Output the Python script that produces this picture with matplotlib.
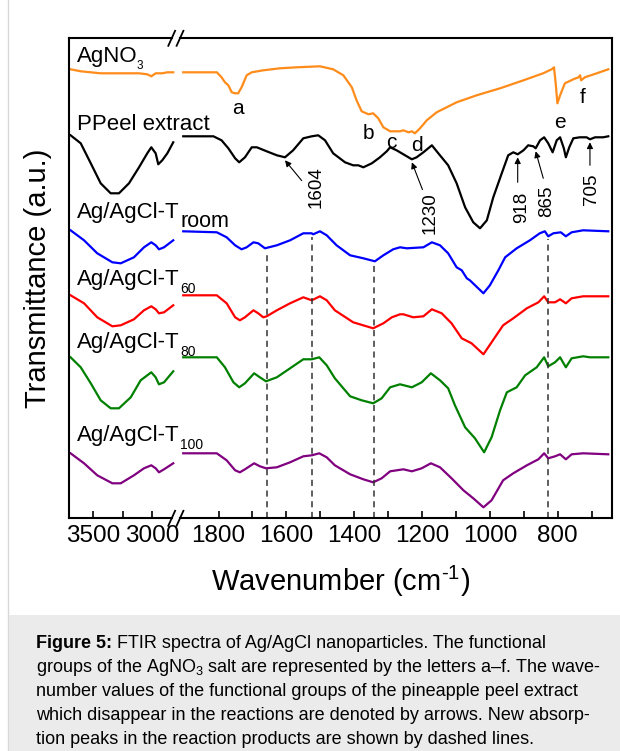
import numpy as np
import matplotlib
matplotlib.use("Agg")
import matplotlib.pyplot as plt
from matplotlib.lines import Line2D
from matplotlib.patches import Rectangle
from matplotlib.ticker import FixedLocator

plt.rcParams['font.family'] = ['Liberation Sans', 'DejaVu Sans']
plt.rcParams['mathtext.fontset'] = 'custom'
plt.rcParams['mathtext.rm'] = 'Liberation Sans'
plt.rcParams['mathtext.it'] = 'Liberation Sans:italic'
plt.rcParams['mathtext.bf'] = 'Liberation Sans:bold'

# ---------------- data (wavenumber cm-1, transmittance a.u. incl. offset) ----------
# high-wavenumber segment (3700-2800)
wn_hi = [3690, 3604, 3519, 3435, 3350, 3280, 3195, 3110, 3040, 3006, 2969, 2947, 2913, 2870, 2820]
agno3_hi = [449, 447, 446, 445, 445, 445, 445, 445, 444, 442, 445, 445, 445, 446, 446]
ppeel_hi = [383, 375, 355, 335, 325, 325, 335, 351, 365, 371, 365, 354, 358, 365, 376]

wn_hi2 = [3690, 3576, 3464, 3336, 3265, 3153, 3068, 3006, 2969, 2941, 2898, 2820]
troom_hi = [288, 278, 265, 256, 255, 261, 271, 276, 273, 269, 271, 278]
t60_hi = [223, 215, 201, 192, 193, 199, 208, 212, 209, 205, 206, 213]
t100_hi = [65, 55, 43, 35, 35, 43, 50, 53, 50, 46, 49, 55]
wn_t80_hi = [3690, 3604, 3519, 3435, 3350, 3280, 3180, 3096, 3006, 2969, 2941, 2898, 2820]
t80_hi = [161, 151, 135, 118, 110, 110, 121, 138, 146, 141, 134, 136, 147]

# low-wavenumber segment (1900-650)
wn_agno3 = [1904, 1805, 1791, 1781, 1771, 1761, 1751, 1742, 1732, 1717, 1702, 1668, 1619, 1569,
            1501, 1462, 1432, 1407, 1393, 1378, 1358, 1344, 1329, 1314, 1294, 1265, 1255, 1240,
            1230, 1221, 1206, 1186, 1157, 1098, 1039, 970, 901, 843, 818, 811, 806, 801, 793,
            779, 754, 739, 734, 731, 720, 685, 651]
agno3_lo = [446, 446, 441, 436, 433, 426, 425, 425, 431, 443, 446, 448, 450, 451,
            452, 449, 443, 431, 418, 407, 404, 405, 400, 391, 387, 387, 388, 386,
            387, 385, 390, 398, 406, 416, 423, 430, 438, 445, 449, 451, 435, 415, 423,
            435, 439, 441, 443, 438, 441, 445, 449]

wn_ppeel = [1904, 1815, 1791, 1771, 1751, 1739, 1722, 1702, 1687, 1658, 1628, 1604, 1580, 1550,
            1525, 1506, 1486, 1462, 1427, 1403, 1388, 1373, 1348, 1324, 1304, 1294, 1275, 1250,
            1230, 1216, 1196, 1171, 1152, 1123, 1098, 1073, 1049, 1029, 1009, 990, 965, 946,
            931, 918, 901, 887, 872, 865, 852, 840, 828, 815, 803, 793, 782, 776, 766, 754,
            735, 715, 705, 690, 666, 651]
ppeel_lo = [382, 382, 378, 370, 360, 356, 361, 371, 371, 367, 363, 361, 368, 380,
            382, 383, 378, 365, 356, 353, 353, 351, 355, 361, 367, 371, 368, 363,
            359, 361, 366, 373, 365, 353, 335, 311, 296, 290, 298, 321, 345, 363,
            366, 364, 368, 373, 372, 370, 378, 381, 375, 366, 378, 381, 370, 361, 371, 380,
            381, 381, 379, 381, 381, 382]

wn_troom = [1904, 1805, 1776, 1751, 1732, 1717, 1697, 1683, 1663, 1628, 1589, 1550, 1525, 1521,
            1501, 1481, 1452, 1412, 1373, 1339, 1314, 1285, 1265, 1245, 1196, 1171, 1147, 1123,
            1098, 1083, 1068, 1059, 1019, 1000, 975, 955, 921, 882, 853, 838, 828, 813, 791,
            776, 759, 725, 651]
troom_lo = [287, 286, 281, 273, 269, 271, 276, 275, 270, 273, 278, 285, 285, 284,
            287, 283, 273, 263, 260, 257, 263, 269, 271, 270, 271, 276, 273, 265,
            251, 248, 240, 238, 225, 233, 248, 261, 270, 278, 285, 287, 282, 285, 286,
            282, 286, 288, 287]

wn_t60 = [1904, 1805, 1776, 1751, 1737, 1722, 1697, 1683, 1668, 1658, 1628, 1589, 1550, 1525,
          1501, 1481, 1457, 1403, 1344, 1314, 1289, 1265, 1255, 1226, 1196, 1171, 1142, 1113,
          1083, 1054, 1019, 995, 961, 931, 891, 857, 840, 828, 808, 793, 776, 759, 725, 651]
t60_lo = [223, 223, 215, 201, 198, 201, 208, 205, 201, 202, 208, 215, 221, 218,
          222, 218, 208, 196, 190, 195, 201, 204, 204, 201, 202, 209, 205, 195,
          180, 175, 164, 176, 193, 200, 210, 216, 222, 216, 216, 219, 215, 220, 222, 222]

wn_t80 = [1904, 1805, 1781, 1756, 1739, 1722, 1695, 1678, 1660, 1628, 1589, 1550, 1525, 1503,
          1481, 1457, 1412, 1378, 1344, 1319, 1294, 1265, 1230, 1201, 1174, 1147, 1123, 1103,
          1073, 1044, 1017, 995, 970, 950, 921, 896, 862, 840, 828, 808, 793, 776, 759, 725,
          705, 651]
t80_lo = [161, 161, 151, 136, 131, 135, 145, 141, 137, 141, 150, 159, 159, 161,
          153, 140, 122, 118, 115, 120, 131, 134, 131, 136, 145, 138, 130, 113,
          91, 80, 66, 81, 108, 126, 131, 143, 151, 161, 152, 156, 161, 151, 160, 162,
          161, 161]

wn_t100 = [1904, 1805, 1776, 1751, 1737, 1722, 1695, 1678, 1660, 1628, 1589, 1550, 1525, 1503,
           1481, 1457, 1412, 1373, 1344, 1319, 1294, 1255, 1230, 1201, 1174, 1147, 1113, 1078,
           1049, 1019, 995, 961, 931, 891, 857, 840, 828, 808, 793, 776, 759, 725, 651]
t100_lo = [65, 65, 58, 48, 46, 49, 55, 52, 50, 51, 56, 62, 63, 65,
           61, 53, 44, 39, 36, 40, 47, 49, 47, 50, 55, 51, 40, 28,
           20, 11, 18, 38, 45, 53, 59, 65, 60, 62, 64, 59, 64, 65, 64]

labels = ["AgNO", "PPeel extract", "Ag/AgCl-T", "Ag/AgCl-T", "Ag/AgCl-T", "Ag/AgCl-T"]
label_subs = ["3", "", "room", "60", "80", "100"]
label_baselines = [456, 388, 300, 233, 170, 77]
colors = ["#FF8C1A", "black", "#0000FF", "#FF0000", "#008000", "#800080"]

letters = ["a", "b", "c", "d", "e", "f"]
letter_pos = [(1742, 410), (1358, 385), (1291, 376), (1215, 373), (793, 396), (728, 421)]

arrow_wn = [1604, 1230, 918, 865, 705]
dashed_wn = [1658, 1523, 1342, 828]

ticks_hi = [3500, 3000]
ticks_lo = [1800, 1600, 1400, 1200, 1000, 800]

# ---------------- figure ----------------
W, H = 620, 751
fig = plt.figure(figsize=(W / 100, H / 100), dpi=100)

def fx(px):
    return px / W

def fy(py):
    return 1 - py / H

# caption box and left rule (behind everything)
fig.add_artist(Line2D([fx(8), fx(8)], [0, 1], color='#d8d8d8', lw=1.0, zorder=-5))
fig.add_artist(Rectangle((fx(8.5), 0), 1 - fx(8.5), (H - 615) / H,
                         transform=fig.transFigure, facecolor='#ebebeb', edgecolor='none',
                         zorder=-5))

ax_top, ax_bot = 38.3, 518.3
x_left, x_break, x_right = 69, 176, 612
ax1 = fig.add_axes([fx(x_left), fy(ax_bot), fx(x_break - x_left), (ax_bot - ax_top) / H])
ax2 = fig.add_axes([fx(x_break), fy(ax_bot), fx(x_right - x_break), (ax_bot - ax_top) / H])
ax2.patch.set_visible(False)

lw = 1.6
ax1.plot(wn_hi, agno3_hi, color=colors[0], lw=lw)
ax1.plot(wn_hi, ppeel_hi, color=colors[1], lw=lw)
ax1.plot(wn_hi2, troom_hi, color=colors[2], lw=lw)
ax1.plot(wn_hi2, t60_hi, color=colors[3], lw=lw)
ax1.plot(wn_t80_hi, t80_hi, color=colors[4], lw=lw)
ax1.plot(wn_hi2, t100_hi, color=colors[5], lw=lw)

ax2.plot(wn_agno3, agno3_lo, color=colors[0], lw=lw)
ax2.plot(wn_ppeel, ppeel_lo, color=colors[1], lw=lw)
ax2.plot(wn_troom, troom_lo, color=colors[2], lw=lw)
ax2.plot(wn_t60, t60_lo, color=colors[3], lw=lw)
ax2.plot(wn_t80, t80_lo, color=colors[4], lw=lw)
ax2.plot(wn_t100, t100_lo, color=colors[5], lw=lw)

ylo, yhi = 0, 480
for ax in (ax1, ax2):
    ax.set_ylim(ylo, yhi)
    ax.set_yticks([])
    for s in ax.spines.values():
        s.set_linewidth(1.5)
    ax.tick_params(axis='x', which='both', direction='in', length=5, width=1.2,
                   top=False, labelsize=17.5, pad=5)

ax1.set_xlim(3703.4, 2796.6)
ax2.set_xlim(1925.3, 640.0)
ax1.spines['right'].set_visible(False)
ax2.spines['left'].set_visible(False)
for sp in ('top', 'bottom'):
    ax1.spines[sp].set_bounds(2833, 3703.4)
    ax2.spines[sp].set_bounds(640.0, 1913.5)

ax1.xaxis.set_major_locator(FixedLocator(ticks_hi))
ax1.xaxis.set_minor_locator(FixedLocator([3250]))
ax2.xaxis.set_major_locator(FixedLocator(ticks_lo))
ax2.xaxis.set_minor_locator(FixedLocator([t - 100 for t in ticks_lo]))
ax1.set_xticklabels([str(t) for t in ticks_hi])
ax2.set_xticklabels([str(t) for t in ticks_lo])

# break marks
for yb in (ax_top, ax_bot):
    for cx in (171.7, 180.0):
        fig.add_artist(Line2D([fx(cx - 3.4), fx(cx + 3.4)], [fy(yb + 7.5), fy(yb - 7.5)],
                              color='black', lw=1.3))

# dashed lines from the Troom spectrum down to the axis
wn_tr_inc = wn_troom[::-1]
tr_inc = troom_lo[::-1]
for d in dashed_wn:
    top = np.interp(d, wn_tr_inc, tr_inc) - 3
    ax2.vlines(d, ylo, top, colors='#333333', linestyles=(0, (4, 3)), lw=1.1)

# labels of spectra
for lab, sub, base in zip(labels, label_subs, label_baselines):
    t = ax1.text(0.075, base, lab, transform=ax1.get_yaxis_transform(), fontsize=16,
                 va='baseline', ha='left', zorder=5)
    if sub == "room":
        ax1.annotate(sub, xy=(1, 0), xycoords=t, xytext=(0.5, -3), textcoords='offset points',
                     fontsize=15.5, va='baseline', ha='left', zorder=5)
    elif sub == "3":
        ax1.annotate(sub, xy=(1, 0), xycoords=t, xytext=(-0.5, -1.4), textcoords='offset points',
                     fontsize=8.5, va='baseline', ha='left', zorder=5)
    elif sub:
        ax1.annotate(sub, xy=(1, 0), xycoords=t, xytext=(0.5, -1.8), textcoords='offset points',
                     fontsize=10, va='baseline', ha='left', zorder=5)

# letters of AgNO3 bands
for l, (x, y) in zip(letters, letter_pos):
    ax2.text(x, y, l, fontsize=15, ha='center', va='center')

# arrows of PPeel extract bands
wn_pp_inc = wn_ppeel[::-1]
pp_inc = ppeel_lo[::-1]
tails = [(16.7, -20.3), (10.6, -27.3), (0, -25), (7.6, -27), (0, -23)]
labpos = [(31, -27.3), (18.3, -51.3), (4, -50), (11.3, -50), (2, -47)]
for w, tl, lp in zip(arrow_wn, tails, labpos):
    tip = np.interp(w, wn_pp_inc, pp_inc) - 3
    ax2.annotate("", xy=(w, tip), xytext=tl, textcoords='offset pixels',
                 arrowprops=dict(arrowstyle='-|>', lw=0.8, color='black',
                                 mutation_scale=9, shrinkA=0, shrinkB=0))
    ax2.annotate(str(w), xy=(w, tip), xytext=lp, textcoords='offset pixels',
                 rotation=90, fontsize=13.5, ha='center', va='center')

# axis titles
fig.text(fx(341), fy(581), "Wavenumber (cm$^{\\mathregular{\u2010}1}$)", fontsize=21,
         ha='center', va='center')
fig.text(fx(38), fy(278), "Transmittance (a.u.)", fontsize=21, rotation=90,
         ha='center', va='center')

# caption
cap_x = fx(36)
cap_lines = [
    "FTIR spectra of Ag/AgCl nanoparticles. The functional",
    r"groups of the AgNO$_\mathregular{3}$ salt are represented by the letters a–f. The wave-",
    "number values of the functional groups of the pineapple peel extract",
    "which disappear in the reactions are denoted by arrows. New absorp-",
    "tion peaks in the reaction products are shown by dashed lines.",
]
cap_fs = 13
y0 = 648
for i, line in enumerate(cap_lines):
    yy = fy(y0 + i * 24)
    if i == 0:
        tb = fig.text(cap_x, yy, "Figure 5:", fontsize=cap_fs, fontweight='bold',
                      ha='left', va='baseline')
        ann = matplotlib.text.Annotation(" " + line, xy=(1, 0), xycoords=tb,
                                         xytext=(0, 0), textcoords='offset points',
                                         fontsize=cap_fs, ha='left', va='bottom')
        fig.add_artist(ann)
    else:
        fig.text(cap_x, yy, line, fontsize=cap_fs, ha='left', va='baseline')

fig.savefig("out.png", dpi=100)
